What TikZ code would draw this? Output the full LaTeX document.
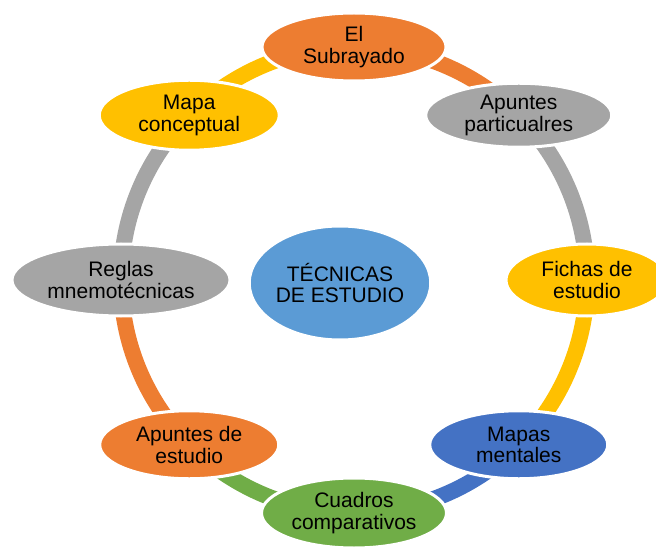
\documentclass[tikz,border=0pt]{standalone}
\usepackage{fontspec}
\setmainfont{Liberation Sans}
\usetikzlibrary{shapes.geometric,calc,backgrounds}

\definecolor{naranja}{HTML}{ED7D31}
\definecolor{gris}{HTML}{A5A5A5}
\definecolor{amarillo}{HTML}{FFC000}
\definecolor{azul}{HTML}{4472C4}
\definecolor{verde}{HTML}{70AD47}
\definecolor{celeste}{HTML}{5B9BD5}

\begin{document}
\begin{tikzpicture}[x=1pt, y=1pt,
  tecnica/.style={ellipse, draw=white, line width=3pt, inner sep=0pt, align=center,
                  minimum width=182, minimum height=68,
                  font=\fontsize{21}{21.5}\selectfont},
  ciclo/.style={line width=16pt}]

\useasboundingbox (0,0) rectangle (656,547);
\coordinate (c) at (354,267);

\node[tecnica, fill=celeste, minimum width=168, minimum height=114] (tecnicas) at (340,264) {TÉCNICAS\\DE ESTUDIO};

\node[tecnica, fill=naranja, minimum width=184] (subrayado) at ($(c)+(90:233)$) {El\\Subrayado};
\node[tecnica, fill=gris, minimum width=186, minimum height=64] (apuntesP) at ($(c)+(45:233)$) {Apuntes\\particualres};
\node[tecnica, fill=amarillo, minimum width=162, minimum height=72] (fichas) at ($(c)+(0:233)$) {Fichas de\\estudio};
\node[tecnica, fill=azul, minimum width=178] (mapas) at ($(c)+(-45:233)$) {Mapas\\mentales};
\node[tecnica, fill=verde, minimum width=185, minimum height=70] (cuadros) at ($(c)+(-90:233)$) {Cuadros\\comparativos};
\node[tecnica, fill=naranja, minimum width=179] (apuntesE) at ($(c)+(-135:233)$) {Apuntes de\\estudio};
\node[tecnica, fill=gris, minimum width=218, minimum height=72] (reglas) at ($(c)+(180:233)$) {Reglas\\mnemotécnicas};
\node[tecnica, fill=amarillo, minimum width=180, minimum height=70] (mapaC) at ($(c)+(135:233)$) {Mapa\\conceptual};

% arcos del ciclo, detras de las elipses
\begin{pgfonlayer}{background}
\draw[ciclo, naranja]  (subrayado.center) arc[start angle=90, end angle=45, radius=233pt];
\draw[ciclo, gris]     (apuntesP.center) arc[start angle=45, end angle=0, radius=233pt];
\draw[ciclo, amarillo] (fichas.center) arc[start angle=0, end angle=-45, radius=233pt];
\draw[ciclo, azul]     (mapas.center) arc[start angle=-45, end angle=-90, radius=233pt];
\draw[ciclo, verde]    (cuadros.center) arc[start angle=-90, end angle=-135, radius=233pt];
\draw[ciclo, naranja]  (apuntesE.center) arc[start angle=-135, end angle=-180, radius=233pt];
\draw[ciclo, gris]     (reglas.center) arc[start angle=180, end angle=135, radius=233pt];
\draw[ciclo, amarillo] (mapaC.center) arc[start angle=135, end angle=90, radius=233pt];
\end{pgfonlayer}
\end{tikzpicture}
\end{document}
